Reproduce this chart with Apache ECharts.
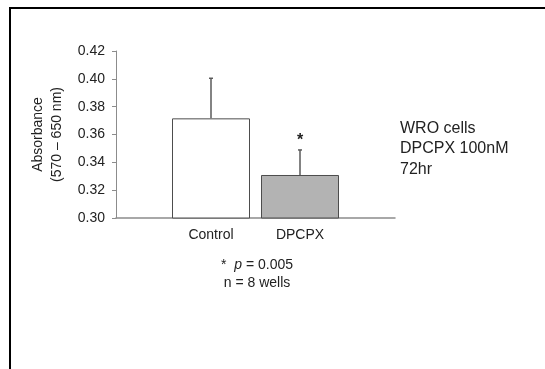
<!DOCTYPE html>
<html>
<head>
<meta charset="utf-8">
<script src="https://cdn.jsdelivr.net/npm/echarts@6/dist/echarts.min.js"></script>
<style>
  html, body { margin: 0; padding: 0; background: #fff; }
  #chart { width: 545px; height: 369px; }
</style>
</head>
<body>
<div id="chart"></div>
<script>
// data
const categories = ['Control', 'DPCPX']
const meanValues = [0.3716, 0.3309]
const errorValues = [0.0288, 0.018]
const sigLabels = ['', '*']
const barColors = ['#ffffff', '#b3b3b3']
const yMin = 0.30
const yMax = 0.42
const yStep = 0.02
const sideNotes = ['WRO cells', 'DPCPX 100nM', '72hr']

const font = 'Liberation Sans, Arial, sans-serif'
const axisGray = '#8c8c8c'

const chart = echarts.init(document.getElementById('chart'))

const option = {
  animation: false,
  textStyle: { fontFamily: font },
  grid: [
    // full axis frame
    { left: 116, right: 150, top: 51, bottom: 151 },
    // bars sit in a narrower band in the middle of the axis
    { left: 166.5, width: 178, top: 51, bottom: 151 },
  ],
  xAxis: [
    {
      type: 'value',
      gridIndex: 0,
      min: 0,
      max: 1,
      axisLine: { show: true, onZero: false, lineStyle: { color: axisGray, width: 1.5 } },
      axisTick: { show: false },
      axisLabel: { show: false },
      splitLine: { show: false },
    },
    {
      type: 'category',
      gridIndex: 1,
      data: categories,
      axisLine: { show: false },
      axisTick: { show: false },
      axisLabel: { color: '#222', fontSize: 14, margin: 10, fontFamily: font },
    },
  ],
  yAxis: [
    {
      type: 'value',
      gridIndex: 0,
      min: yMin,
      max: yMax,
      interval: yStep,
      name: 'Absorbance\n(570 – 650 nm)',
      nameLocation: 'middle',
      nameGap: 49,
      nameRotate: 90,
      nameTextStyle: { color: '#222', fontSize: 14, lineHeight: 19, fontFamily: font },
      axisLine: { show: true, lineStyle: { color: axisGray, width: 1 } },
      axisTick: { show: true, inside: false, length: 4, lineStyle: { color: axisGray } },
      axisLabel: {
        color: '#222',
        fontSize: 14,
        margin: 11,
        fontFamily: font,
        formatter: (v) => v.toFixed(2),
      },
      splitLine: { show: false },
    },
    {
      type: 'value',
      gridIndex: 1,
      min: yMin,
      max: yMax,
      show: false,
    },
  ],
  series: [
    {
      type: 'bar',
      xAxisIndex: 1,
      yAxisIndex: 1,
      barWidth: 78,
      data: meanValues.map((v, i) => ({
        value: v,
        itemStyle: { color: barColors[i], borderColor: '#4d4d4d', borderWidth: 1 },
      })),
    },
    {
      type: 'custom',
      xAxisIndex: 1,
      yAxisIndex: 1,
      data: meanValues.map((v, i) => [i, v, v + errorValues[i]]),
      renderItem: (params, api) => {
        const base = api.coord([api.value(0), api.value(1)])
        const top = api.coord([api.value(0), api.value(2)])
        const x = base[0]
        const children = [
          {
            type: 'line',
            shape: { x1: x, y1: base[1], x2: x, y2: top[1] },
            style: { stroke: '#5a5a5a', lineWidth: 1.5 },
          },
          {
            type: 'line',
            shape: { x1: x - 2, y1: top[1], x2: x + 2, y2: top[1] },
            style: { stroke: '#5a5a5a', lineWidth: 1.5 },
          },
        ]
        const mark = sigLabels[params.dataIndex]
        if (mark) {
          children.push({
            type: 'text',
            style: {
              text: mark,
              x: x,
              y: top[1] - 9,
              align: 'center',
              verticalAlign: 'middle',
              fill: '#222',
              font: 'bold 16px ' + font,
            },
          })
        }
        return { type: 'group', children: children }
      },
    },
  ],
  graphic: [
    {
      type: 'rect',
      shape: { x: 10, y: 8, width: 600, height: 420 },
      style: { fill: 'none', stroke: '#000', lineWidth: 2 },
      silent: true,
    },
    {
      type: 'text',
      left: 400,
      top: 118,
      style: {
        text: sideNotes.join('\n'),
        fill: '#222',
        font: '16px ' + font,
        lineHeight: 20.5,
      },
    },
    {
      type: 'text',
      x: 257,
      y: 256,
      style: {
        text: '{s|*}  {i|p} = 0.005\nn = 8 wells',
        align: 'center',
        fill: '#222',
        font: '14px ' + font,
        lineHeight: 18,
        rich: {
          s: { fontSize: 14, fontFamily: font, fill: '#222', lineHeight: 18 },
          i: { fontSize: 14, fontStyle: 'italic', fontFamily: font, fill: '#222', lineHeight: 18 },
        },
      },
    },
  ],
}

chart.setOption(option)
</script>
</body>
</html>
